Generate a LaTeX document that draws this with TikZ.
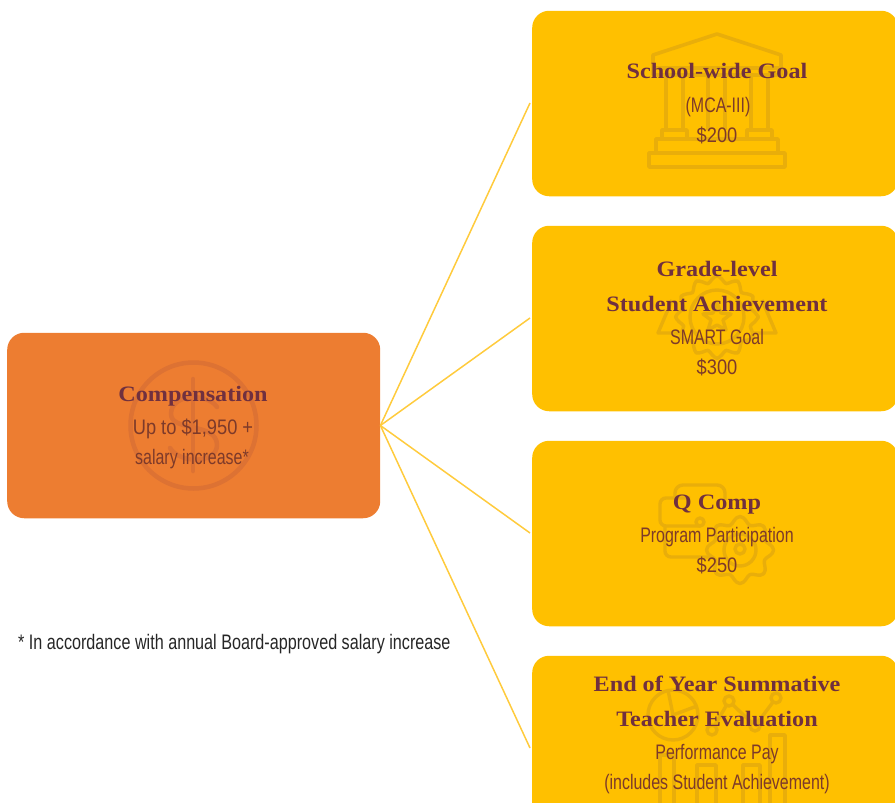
\documentclass[tikz,border=0pt]{standalone}
\usepackage{fontspec}
\setmainfont{Liberation Serif}[FakeStretch=1.1]
\newfontfamily\bodyfont[FakeStretch=0.76]{Liberation Sans}
\newfontfamily\numfont[FakeStretch=0.87]{Liberation Sans}
\newfontfamily\notefont[FakeStretch=0.77]{Liberation Sans}
\definecolor{maroon}{HTML}{70303F}
\definecolor{bodytxt}{HTML}{7D3A2A}
\definecolor{boxorange}{HTML}{ED7D31}
\definecolor{boxyellow}{HTML}{FFC000}
\definecolor{iconyellow}{HTML}{E9AE0A}
\definecolor{iconorange}{HTML}{DD7233}
\definecolor{linkyellow}{HTML}{FFCB3D}
\tikzset{
  x=1pt,y=-1pt,
  box/.style={draw=none,rounded corners=17pt,minimum width=#1,minimum height=185.5pt,inner sep=0pt,anchor=west},
  goldbox/.style={box=366pt,fill=boxyellow},
  orangebox/.style={box=373pt,fill=boxorange},
  link/.style={draw=linkyellow,line width=1.5pt},
  title/.style={font=\fontsize{22}{26}\selectfont\bfseries,text=maroon,inner sep=0pt,anchor=base},
  body/.style={font=\fontsize{21}{25}\bodyfont,text=bodytxt,inner sep=0pt,anchor=base},
  numbody/.style={font=\fontsize{21}{25}\numfont,text=bodytxt,inner sep=0pt,anchor=base},
  note/.style={font=\fontsize{21}{25}\notefont,text=black!85,inner sep=0pt,anchor=base west},
  goldicon/.style={draw=iconyellow,line width=3.6pt,line join=round},
  thinicon/.style={draw=iconyellow,line width=3.4pt,line join=round},
  orangeicon/.style={draw=iconorange,line width=4.5pt,line cap=round}
}
\begin{document}
\begin{tikzpicture}
\useasboundingbox (0,0) rectangle (895,803);
\clip (0,0) rectangle (895,803);
\node[orangebox] (comp) at (7,425.5) {};
\node[goldbox] (school) at (532,103.5) {};
\node[goldbox] (grade) at (532,318.5) {};
\node[goldbox] (qcomp) at (532,533.5) {};
\node[goldbox] (eoy) at (532,748.5) {};
\coordinate (endschool) at (530,103);
\coordinate (endgrade) at (530,318);
\coordinate (endqcomp) at (530,533);
\coordinate (endeoy) at (530,748);
\draw[link] (comp.east) -- (endschool);
\draw[link] (comp.east) -- (endgrade);
\draw[link] (comp.east) -- (endqcomp);
\draw[link] (comp.east) -- (endeoy);
% dollar icon
\draw[orangeicon] (193.5,425.5) circle (63);
\draw[orangeicon] (217,407) .. controls (208,393) and (171,393) .. (171,414) .. controls (171,432) and (217,422) .. (217,445) .. controls (217,464) and (180,464) .. (170,448);
\draw[orangeicon] (193,379) -- (193,471);
% building icon
\draw[goldicon] (653,68) -- (653,55) -- (717,34) -- (781,55) -- (781,68) -- cycle;
\draw[goldicon] (653,68) rectangle (781,75);
\foreach \xa in {666,708,751}{\draw[goldicon] (\xa,75) -- (\xa,130) (\xa+17,75) -- (\xa+17,130);}
\draw[goldicon] (662,130) rectangle (687,139);
\draw[goldicon] (747,130) rectangle (772,139);
\draw[goldicon] (656,139) rectangle (778,153);
\draw[goldicon] (649,153) rectangle (785,167);
% badge icon
\draw[thinicon] plot[smooth cycle,samples=49,domain=0:360,variable=\a] ({717+(38+3.5*cos(12*\a))*cos(\a)},{317+(38+3.5*cos(12*\a))*sin(\a)});
\draw[thinicon] (717,317) circle (27);
\draw[thinicon] (717,303) -- (721,313) -- (731,314) -- (723,320) -- (726,330) -- (717,325) -- (708,330) -- (711,320) -- (703,314) -- (713,313) -- cycle;
\draw[thinicon] (672,300) -- (658,333) -- (680,333);
\draw[thinicon] (762,300) -- (776,333) -- (754,333);
% settings icon
\draw[thinicon,rounded corners=8pt] (675,498) -- (675,485) -- (725,485) -- (725,500);
\draw[thinicon,rounded corners=6pt] (700,526) -- (660,526) -- (660,498) -- (690,498);
\draw[thinicon,rounded corners=6pt] (665,526) -- (665,557) -- (712,557);
\draw[thinicon] plot[smooth cycle,samples=65,domain=0:360,variable=\a] ({740+(30+3.5*cos(8*\a))*cos(\a)},{550+(30+3.5*cos(8*\a))*sin(\a)});
\draw[thinicon] (740,550) circle (16);
\draw[thinicon] (740,549) circle (5);
\draw[thinicon] (700,522) circle (4);
% charts icon
\draw[thinicon] (673,715) circle (25);
\draw[thinicon] (668,690) -- (673,715) -- (697,706);
\draw[thinicon] (712,730) -- (729,701) -- (755,726) -- (776,698);
\foreach \px/\py in {712/730,729/701,755/726,776/698}{\draw[thinicon,fill=boxyellow] (\px,\py) circle (5);}
\foreach \bl/\br/\by in {660/674/755,697/716/765,743/760/765,770/785/735}{\draw[thinicon] (\bl,810) -- (\bl,\by) -- (\br,\by) -- (\br,810);}
% text
\node[title] (t1) at (193,401) {Compensation};
\node[numbody] (t2) at (193,434) {Up to \$1,950 +};
\node[body] (t3) at (192,464) {salary increase*};
\node[note] (n1) at (18,649) {* In accordance with annual Board-approved salary increase};
\node[title] (s1) at (717,78) {School-wide Goal};
\node[body] (s2) at (718,112) {(MCA-III)};
\node[numbody] (s3) at (717,142) {\$200};
\node[title] (g1) at (717,276) {Grade-level};
\node[title] (g2) at (717,311) {Student Achievement};
\node[body] (g3) at (717,344) {SMART Goal};
\node[numbody] (g4) at (717,374) {\$300};
\node[title] (q1) at (717,509) {Q Comp};
\node[body] (q2) at (717,542) {Program Participation};
\node[numbody] (q3) at (717,572) {\$250};
\node[title] (e1) at (717,691) {End of Year Summative};
\node[title] (e2) at (717,726) {Teacher Evaluation};
\node[body] (e3) at (717,759) {Performance Pay};
\node[body] (e4) at (717,789) {(includes Student Achievement)};
\end{tikzpicture}
\end{document}
